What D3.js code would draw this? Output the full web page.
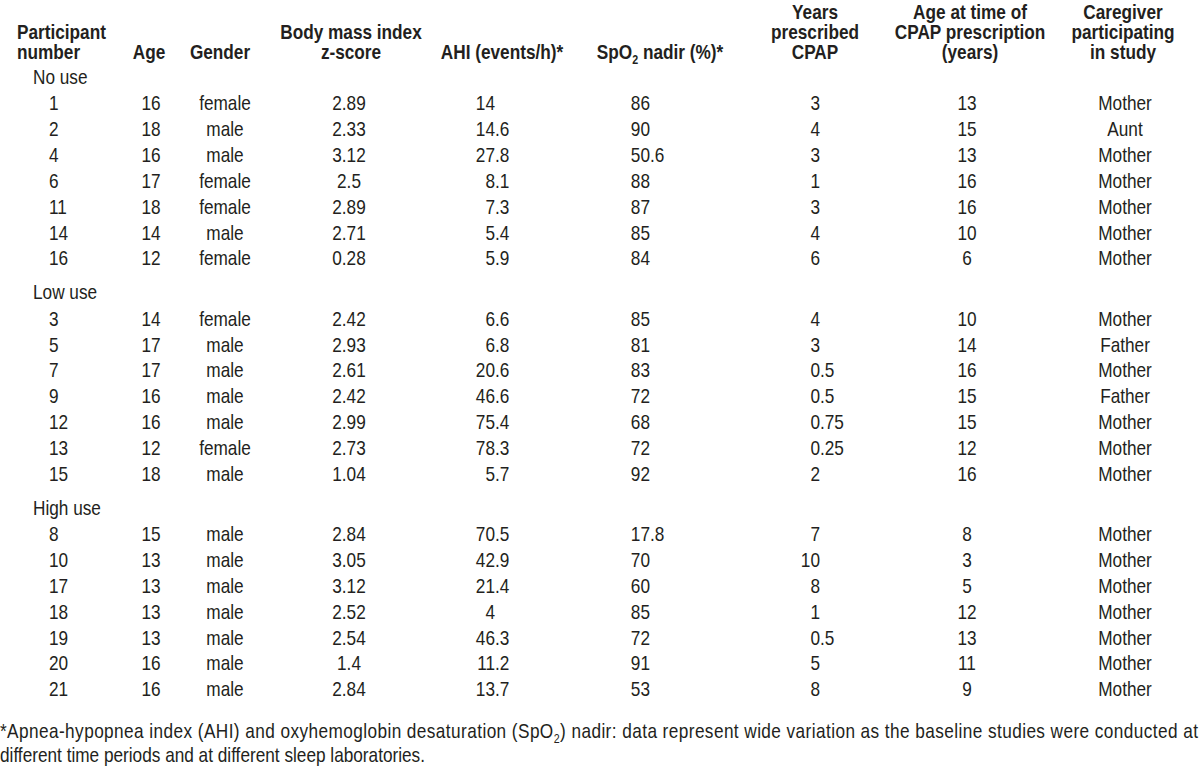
<!DOCTYPE html>
<html>
<head>
<meta charset="utf-8">
<script src="https://cdn.jsdelivr.net/npm/d3@7"></script>
<style>
  html, body { margin: 0; padding: 0; background: #fff; }
  svg { display: block; }
  text { font-family: "Liberation Sans", Arial, sans-serif; fill: #231f20; }
</style>
</head>
<body>
<svg id="chart" width="1200" height="766"></svg>
<script>
// ---------------- data ----------------
const groups       = ["No use", "Low use", "High use"];
const groupOf      = ["No use","No use","No use","No use","No use","No use","No use",
                      "Low use","Low use","Low use","Low use","Low use","Low use","Low use",
                      "High use","High use","High use","High use","High use","High use","High use"];
const participants = ["1","2","4","6","11","14","16", "3","5","7","9","12","13","15", "8","10","17","18","19","20","21"];
const ages         = ["16","18","16","17","18","14","12", "14","17","17","16","16","12","18", "15","13","13","13","13","16","16"];
const genders      = ["female","male","male","female","female","male","female",
                      "female","male","male","male","male","female","male",
                      "male","male","male","male","male","male","male"];
const bmiZ         = ["2.89","2.33","3.12","2.5","2.89","2.71","0.28", "2.42","2.93","2.61","2.42","2.99","2.73","1.04",
                      "2.84","3.05","3.12","2.52","2.54","1.4","2.84"];
const ahi          = ["14","14.6","27.8","8.1","7.3","5.4","5.9", "6.6","6.8","20.6","46.6","75.4","78.3","5.7",
                      "70.5","42.9","21.4","4","46.3","11.2","13.7"];
const spo2         = ["86","90","50.6","88","87","85","84", "85","81","83","72","68","72","92",
                      "17.8","70","60","85","72","91","53"];
const yearsCPAP    = ["3","4","3","1","3","4","6", "4","3","0.5","0.5","0.75","0.25","2",
                      "7","10","8","1","0.5","5","8"];
const ageAtCPAP    = ["13","15","13","16","16","10","6", "10","14","16","15","15","12","16",
                      "8","3","5","12","13","11","9"];
const caregivers   = ["Mother","Aunt","Mother","Mother","Mother","Mother","Mother",
                      "Mother","Father","Mother","Father","Mother","Mother","Mother",
                      "Mother","Mother","Mother","Mother","Mother","Mother","Mother"];

const columnKeys   = ["participant","age","gender","bmi","ahi","spo2","years","ageCpap","caregiver"];
const headerLines  = [["Participant","number"],["Age"],["Gender"],["Body mass index","z-score"],
                      ["AHI (events/h)*"],["SpO|2| nadir (%)*"],["Years","prescribed","CPAP"],
                      ["Age at time of","CPAP prescription","(years)"],["Caregiver","participating","in study"]];
const footnoteLines = ["*Apnea-hypopnea index (AHI) and oxyhemoglobin desaturation (SpO|2|) nadir: data represent wide variation as the baseline studies were conducted at",
                       "different time periods and at different sleep laboratories."];

// ---------------- layout ----------------
const SX = 0.82;          // condensed (Arial Narrow-like) horizontal scale
const FS = 21;
const svg = d3.select("#chart");

// column anchor x positions
const colX = d3.scaleOrdinal().domain(columnKeys)
  .range([49, 151, 225, 349, 495, 650, 820, 967, 1125]);
const headX = d3.scaleOrdinal().domain(columnKeys)
  .range([17, 149, 220, 351, 502, 660, 815, 970, 1123]);
const colMode = d3.scaleOrdinal().domain(columnKeys)
  .range(["start","middle","middle","middle","decimal","decimal","decimal","middle","middle"]);
const colValues = {participant: participants, age: ages, gender: genders, bmi: bmiZ, ahi: ahi,
                   spo2: spo2, years: yearsCPAP, ageCpap: ageAtCPAP, caregiver: caregivers};

// vertical layout
const headerBase = 58.5, headerStep = 20;
const rowStep = 25.85, groupGap = 34, firstGroupY = 84;
const rowY = [], groupY = {};
let y = firstGroupY;
groups.forEach((g, gi) => {
  if (gi > 0) y += groupGap;
  groupY[g] = y;
  groupOf.forEach((gg, i) => { if (gg === g) { y += (rowY.length && groupOf[i-1] === g) ? rowStep : 26.3; rowY[i] = y; } });
});
const yScale = d3.scaleOrdinal().domain(d3.range(participants.length)).range(rowY);

function addText(sel, x, yy, str, anchor, weight) {
  const t = sel.append("text")
    .attr("transform", `translate(${x},${yy}) scale(${SX},1)`)
    .attr("text-anchor", anchor)
    .attr("font-size", FS)
    .attr("font-weight", weight || "normal");
  const parts = str.split("|");
  parts.forEach((p, k) => {
    if (k % 2 === 1) {
      t.append("tspan").attr("font-size", FS * 0.62).attr("dy", 5).text(p);
    } else {
      const ts = t.append("tspan").text(p);
      if (k > 0) ts.attr("dy", -5);
    }
  });
  return t;
}

// headers
const gHead = svg.append("g");
columnKeys.forEach((k, ci) => {
  const lines = headerLines[ci];
  const anchor = k === "participant" ? "start" : "middle";
  lines.forEach((ln, li) => {
    const yy = headerBase - (lines.length - 1 - li) * headerStep;
    addText(gHead, headX(k), yy, ln, anchor, "bold");
  });
});

// group labels
const gGroups = svg.append("g");
groups.forEach(g => addText(gGroups, 33, groupY[g], g, "start"));

// cells
const gBody = svg.append("g");
columnKeys.forEach(k => {
  const vals = colValues[k];
  const mode = colMode(k);
  vals.forEach((v, i) => {
    const yy = yScale(i);
    if (mode === "decimal") {
      const [ip, dp] = v.split(".");
      addText(gBody, colX(k), yy, ip, "end");
      if (dp !== undefined) addText(gBody, colX(k), yy, "." + dp, "start");
    } else {
      addText(gBody, colX(k), yy, v, mode);
    }
  });
});

// footnote
const gFoot = svg.append("g");
const f1 = addText(gFoot, 0, 738, footnoteLines[0], "start");
f1.attr("textLength", 1198 / SX).attr("lengthAdjust", "spacing");
addText(gFoot, 0, 762, footnoteLines[1], "start");
</script>
</body>
</html>
